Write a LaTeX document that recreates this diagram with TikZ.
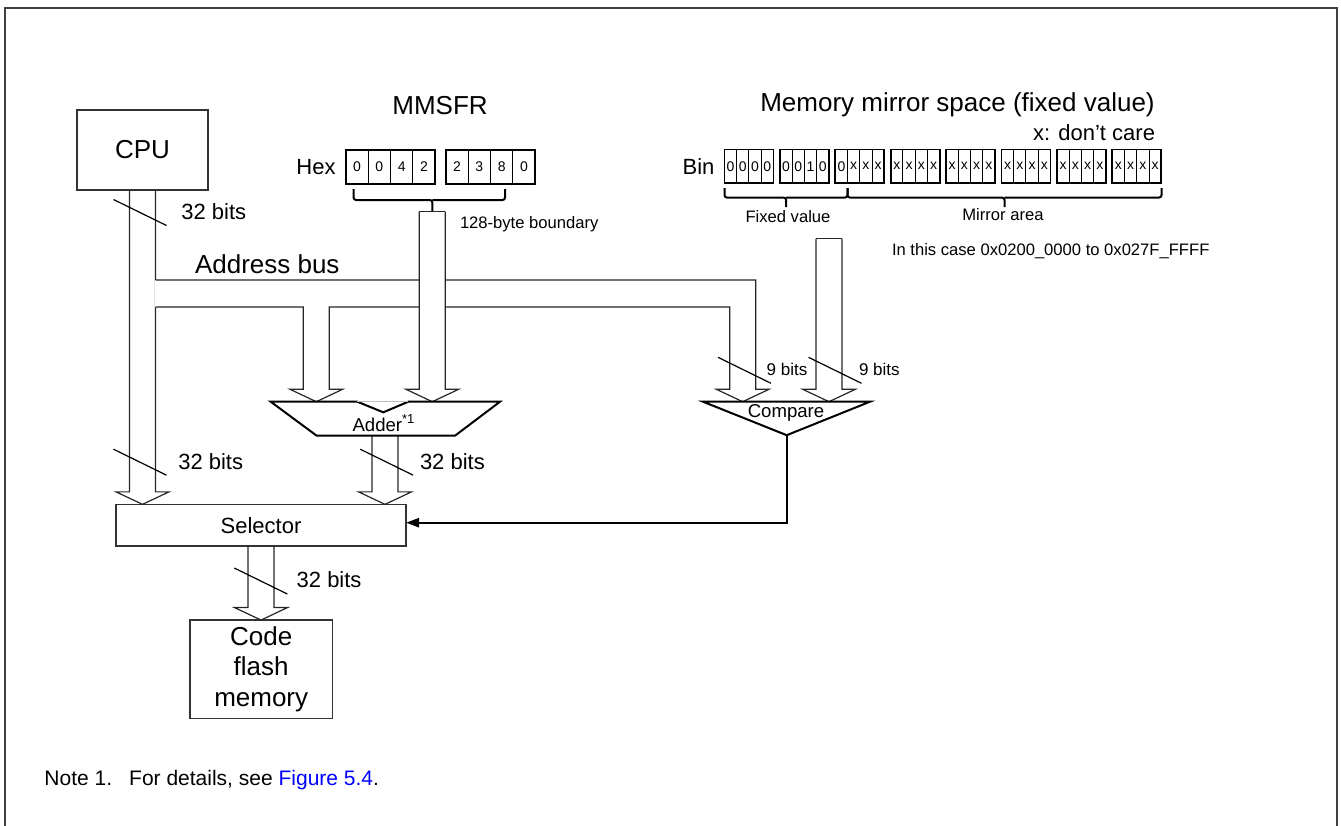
\documentclass[tikz,border=0pt]{standalone}
\usepackage{fontspec}
\setmainfont{Liberation Sans}
\usepackage{xcolor}
\usetikzlibrary{arrows.meta, calc}

% open block arrow of a bus: #2 = top of shaft, #3 = tip (same x)
\newcommand{\busarrow}[3][]{%
  \draw[busline, #1]
    ($(#2)+(-13,0)$) -- ($(#3)+(-13,-12.5)$) -- ($(#3)+(-26.5,-12.5)$)
    -- (#3) -- ($(#3)+(26.5,-12.5)$) -- ($(#3)+(13,-12.5)$)
    -- ($(#2)+(13,0)$);}
% bus width mark across a shaft
\newcommand{\widthmark}[1]{%
  \draw[slashline] ($(#1)+(-26.5,-13)$) -- ($(#1)+(26.5,13)$);}

\begin{document}
\begin{tikzpicture}[x=0.5pt, y=-0.5pt,
  every node/.style = {inner sep=0pt, outer sep=0pt},
  blkbox/.style    = {draw=black!80, line width=0.65pt, fill=white},
  busline/.style   = {draw=black!85, line width=0.6pt},
  unitline/.style  = {draw=black, line width=1pt, line join=miter, fill=white},
  brc/.style       = {draw=black, line width=1pt, rounded corners=1.2pt},
  slashline/.style = {draw=black, line width=0.6pt},
  ctrl/.style      = {draw=black, line width=1.2pt,
                      -{Triangle[length=6.5pt, width=4.5pt]}},
  bigtxt/.style    = {font=\fontsize{13}{15.3}\selectfont},
  midtxt/.style    = {font=\fontsize{11}{13}\selectfont},
  unittxt/.style   = {font=\fontsize{9.3}{11}\selectfont},
  smalltxt/.style  = {font=\fontsize{8.3}{10}\selectfont},
  hexcell/.style   = {draw=black, line width=0.5pt, minimum width=11.2pt,
                      minimum height=17pt, font=\fontsize{7}{8}\selectfont},
  bincell/.style   = {hexcell, minimum width=6.125pt, minimum height=16.75pt},
  grpline/.style   = {draw=black, line width=0.9pt},
]
\useasboundingbox (0,0) rectangle (1341,826);

%% ── Frame ───────────────────────────────────────────────────────────────────
\draw[black!75, line width=1pt] (5,830) -- (5,7.5) -- (1337,7.5) -- (1337,830);

%% ── Blocks ──────────────────────────────────────────────────────────────────
\node[blkbox, bigtxt, minimum width=65.5pt, minimum height=40pt]
  (cpu) at (142.5,150) {CPU};
\node[blkbox, midtxt, minimum width=145pt, minimum height=20.85pt]
  (sel) at (261,525.2) {Selector};
\node[blkbox, bigtxt, align=center, minimum width=71.15pt, minimum height=49.15pt]
  (code) at (261.2,669.2) {Code\\flash\\memory};

\coordinate (mmTop)  at (432.3,211.7);
\coordinate (mirTop) at (829,238.7);
\coordinate (addInL) at (316.3,401.7);
\coordinate (addInR) at (mmTop |- addInL);
\coordinate (cmpInL) at (742.7,401.7);
\coordinate (cmpInR) at (mirTop |- cmpInL);
\coordinate (addOut) at (385,435.7);
\coordinate (cmpTip) at (786.7,435.2);

%% ── MMSFR register ──────────────────────────────────────────────────────────
\node[bigtxt] (mmsfr) at (440,105.5) {MMSFR};
\node[midtxt] (hexlbl) at (316,167.5) {Hex};
\foreach \d [count=\i] in {0,0,4,2}
  \node[hexcell] (hexA\i) at ({334.5+22.4*\i},167) {\d};
\foreach \d [count=\i] in {2,3,8,0}
  \node[hexcell] (hexB\i) at ({434.5+22.4*\i},167) {\d};
\draw[grpline] (hexA1.north west) rectangle (hexA4.south east);
\draw[grpline] (hexB1.north west) rectangle (hexB4.south east);
\draw[brc] (353.6,189) |- (432.3,200) -- (mmTop);
\draw[brc] (505,189) |- (432.3,200);
\node[smalltxt, anchor=west] (bound) at (460,224.5) {128-byte boundary};

%% ── Memory mirror space ─────────────────────────────────────────────────────
\node[bigtxt] (mirtitle) at (957.5,105) {Memory mirror space (fixed value)};
\node[midtxt, anchor=east] (dcare) at (1155,132.8) {x: don’t care};
\node[midtxt] (binlbl) at (698.5,166.5) {Bin};
\foreach \b [count=\i from 0] in {0,0,0,0, 0,0,1,0, 0,x,x,x, x,x,x,x,
                                  x,x,x,x, x,x,x,x, x,x,x,x, x,x,x,x}{
  \pgfmathtruncatemacro\g{\i/4}
  \pgfmathtruncatemacro\c{mod(\i,4)}
  \node[bincell] (bin\i) at ({730.6+55.4*\g+12.25*\c},166.25) {\b};
}
\foreach \g in {0,...,7}{
  \pgfmathtruncatemacro\a{4*\g}
  \pgfmathtruncatemacro\z{4*\g+3}
  \draw[grpline] (bin\a.north west) rectangle (bin\z.south east);
}
\draw[brc] (724.5,188) |- (786,197.5) -- (786,207);
\draw[brc] (847.5,188) |- (786,197.5);
\draw[brc] (847.5,188) |- (1004.5,197.5) -- (1004.5,207);
\draw[brc] (1161.5,188) |- (1004.5,197.5);
\node[smalltxt] (fixlbl) at (788,217) {Fixed value};
\node[smalltxt] (mirlbl) at (1003,215) {Mirror area};
\node[smalltxt, anchor=west] (range) at (892,251.5)
  {In this case 0x0200\_0000 to 0x027F\_FFFF};

%% ── Address bus ─────────────────────────────────────────────────────────────
\busarrow{cpu.south}{cpu.south |- sel.north}
\fill[white] (154.6,280.4) rectangle (755,306.6);
\draw[busline] (155.5,280) -- (755.7,280)
  -- ($(cmpInL)+(13,-12.5)$) -- ($(cmpInL)+(26.5,-12.5)$) -- (cmpInL)
  -- ($(cmpInL)+(-26.5,-12.5)$) -- ($(cmpInL)+(-13,-12.5)$) -- (729.7,307)
  -- (329.3,307)
  -- ($(addInL)+(13,-12.5)$) -- ($(addInL)+(26.5,-12.5)$) -- (addInL)
  -- ($(addInL)+(-26.5,-12.5)$) -- ($(addInL)+(-13,-12.5)$) -- (303.3,307)
  -- (155.5,307);
\node[bigtxt, anchor=west] (buslbl) at (195,264) {Address bus};

\busarrow[fill=white]{mmTop}{addInR}
\draw[busline] ($(mmTop)+(-13,0)$) -- ($(mmTop)+(13,0)$);
\busarrow{mirTop}{cmpInR}
\draw[busline] ($(mirTop)+(-13,0)$) -- ($(mirTop)+(13,0)$);
\busarrow{addOut}{addOut |- sel.north}
\busarrow{sel.south}{sel.south |- code.north}

%% ── Adder and comparator ────────────────────────────────────────────────────
\draw[unitline] (270.7,401.7) -- (357.3,401.7) -- (383.3,412.3) -- (408.3,401.7)
  -- (500,401.7) -- (455,435.7) -- (316.7,435.7) -- cycle;
\draw[black!25, line width=0.6pt] (357.3,401.7) -- (408.3,401.7);
\node[unittxt] (adder) at (384,423) {Adder\textsuperscript{*1}};

\draw[unitline] (703,401.7) -- (870,401.7) -- (cmpTip) -- cycle;
\node[unittxt] (cmp) at (786,412.7) {Compare};
\draw[ctrl] (cmpTip) |- ($(sel.east)+(0,-2.5)$);

%% ── Bus widths ──────────────────────────────────────────────────────────────
\widthmark{140,212.5}
\node[midtxt, anchor=west] (w1) at (181.4,211.7) {32 bits};
\widthmark{140,462.2}
\node[midtxt, anchor=west] (w2) at (178.3,461.7) {32 bits};
\widthmark{386.7,462.2}
\node[midtxt, anchor=west] (w3) at (420,461.7) {32 bits};
\widthmark{260.8,581}
\node[midtxt, anchor=west] (w4) at (296.7,580) {32 bits};
\widthmark{744.5,370.3}
\node[font=\fontsize{8.5}{10}\selectfont, anchor=west] (w5) at (766.7,369.3) {9 bits};
\widthmark{835,370.3}
\node[font=\fontsize{8.5}{10}\selectfont, anchor=west] (w6) at (859,369.3) {9 bits};

%% ── Note ────────────────────────────────────────────────────────────────────
\node[font=\fontsize{10.5}{12}\selectfont, anchor=west] (note) at (44.5,780)
  {Note 1.\hspace{8.5pt}For details, see \textcolor{blue}{Figure 5.4}.};

\end{tikzpicture}
\end{document}
